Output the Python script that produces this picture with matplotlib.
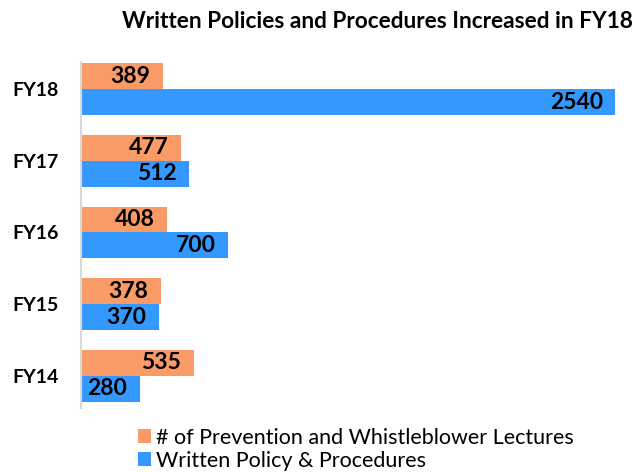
import numpy as np
import matplotlib.pyplot as plt

years = ['FY14', 'FY15', 'FY16', 'FY17', 'FY18']
lectures = [535, 378, 408, 477, 389]
policies = [280, 370, 700, 512, 2540]

plt.rcParams['font.family'] = ['Lato', 'DejaVu Sans']

fig = plt.figure(figsize=(6.42, 4.72), dpi=100)
ax = fig.add_axes([81 / 642, 1 - 408 / 472, 547 / 642, 346 / 472])

y = np.arange(len(years))
h = 0.36
orange = '#FA9A66'
blue = '#3399FF'
b1 = ax.barh(y + h / 2, lectures, height=h, color=orange,
             label='# of Prevention and Whistleblower Lectures')
b2 = ax.barh(y - h / 2, policies, height=h, color=blue,
             label='Written Policy & Procedures')

for bars in (b1, b2):
    ax.bar_label(bars, padding=-9, fontsize=16.5, fontweight='bold')
for t in ax.texts:
    t.set_ha('right')

ax.set_xlim(0, 2600)
ax.set_ylim(-0.45, 4.38)
ax.set_yticks(y)
ax.set_yticklabels(years, fontsize=14, fontweight='bold')
ax.tick_params(axis='y', length=0, pad=16)
ax.set_xticks([])
for s in ['top', 'right', 'bottom']:
    ax.spines[s].set_visible(False)
ax.spines['left'].set_color('#D9D9D9')
ax.spines['left'].set_linewidth(1.5)

fig.text(377 / 642, 1 - 22 / 472, 'Written Policies and Procedures Increased in FY18',
         ha='center', va='center', fontsize=16.3, fontweight='bold')

fig.legend(handles=[b1, b2], loc='upper left', bbox_to_anchor=(129 / 642, 1 - 419 / 472),
           frameon=False, fontsize=15.5, handlelength=0.6, handleheight=0.6,
           handletextpad=0.25, labelspacing=0.15, borderaxespad=0)

fig.savefig('out.png', dpi=100)
